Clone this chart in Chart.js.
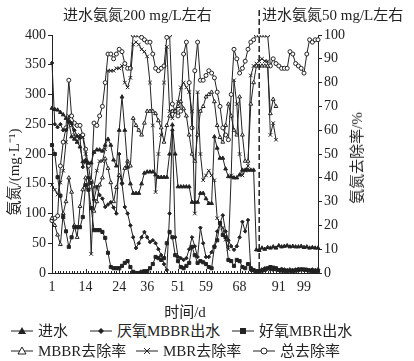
<!DOCTYPE html>
<html>
<head>
<meta charset="utf-8">
<script src="https://cdn.jsdelivr.net/npm/chart.js@4"></script>
<style>
  body { margin: 0; background: #fff; }
  #wrap { position: relative; width: 414px; height: 361px; font-family: "Liberation Serif", "Noto Sans CJK SC", serif; color: #222; }
  #wrap canvas { position: absolute; left: 0; top: 0; }
  .t { position: absolute; white-space: nowrap; font-size: 15px; line-height: 18px; }
  .rot { transform: translate(-50%, -50%) rotate(-90deg); }
  .lg { position: absolute; white-space: nowrap; font-size: 15px; line-height: 18px; display: flex; align-items: center; }
  .lg svg { margin-right: 5px; }
</style>
</head>
<body>
<div id="wrap">
  <canvas id="chart" width="414" height="322"></canvas>
  <div class="t" style="left:63px;top:6px">进水氨氮200 mg/L左右</div>
  <div class="t" style="left:262px;top:6px">进水氨氮50 mg/L左右</div>
  <div class="t rot" style="left:14px;top:172px">氨氮/(mg·L⁻¹)</div>
  <div class="t rot" style="left:357px;top:158px">氨氮去除率/%</div>

  <div class="lg" style="left:11px;top:322px"><svg width="22" height="10"><line x1="0" y1="5" x2="22" y2="5" stroke="#222"/><polygon points="11,1 15,8 7,8" fill="#222"/></svg>进水</div>
  <div class="lg" style="left:90px;top:322px"><svg width="22" height="10"><line x1="0" y1="5" x2="22" y2="5" stroke="#222"/><polygon points="11,2 14,5 11,8 8,5" fill="#222"/></svg>厌氧MBBR出水</div>
  <div class="lg" style="left:232px;top:322px"><svg width="22" height="10"><line x1="0" y1="5" x2="22" y2="5" stroke="#222"/><rect x="8" y="2" width="6" height="6" fill="#222"/></svg>好氧MBR出水</div>
  <div class="lg" style="left:11px;top:342px"><svg width="22" height="10"><line x1="0" y1="5" x2="22" y2="5" stroke="#222"/><polygon points="11,1 15,8 7,8" fill="#fff" stroke="#222"/></svg>MBBR去除率</div>
  <div class="lg" style="left:136px;top:342px"><svg width="22" height="10"><line x1="0" y1="5" x2="22" y2="5" stroke="#222"/><path d="M8 2 L14 8 M14 2 L8 8" stroke="#222"/></svg>MBR去除率</div>
  <div class="lg" style="left:253px;top:342px"><svg width="22" height="10"><line x1="0" y1="5" x2="22" y2="5" stroke="#222"/><circle cx="11" cy="5" r="3" fill="#fff" stroke="#222"/></svg>总去除率</div>
</div>
<script>
// day labels shown under some sampling points
var tickPos = [0, 12, 24, 34, 45, 55, 67, 81, 90];
var tickDays = ['1', '14', '24', '36', '51', '59', '68', '91', '99'];
var nPoints = 96;
var switchIndex = 74; // influent changes from ~200 to ~50 mg/L

// mg/L
var influent = [277,275,274,270,266,260,254,229,225,220,
  212,187,187,185,185,203,207,207,205,215,
  225,215,190,180,240,296,240,178,150,134,
  134,134,150,168,170,170,170,165,161,161,
  161,161,200,249,200,145,145,145,145,145,
  119,119,119,134,134,125,117,117,229,210,
  193,193,175,162,162,160,160,165,173,173,
  173,173,173,39,38,42,40,43,42,44,
  42,46,44,45,46,44,45,44,44,45,
  43,44,42,43,42,42];
var anaerobicOut = [353,250,245,250,240,240,255,252,240,230,
  227,178,190,160,151,123,145,131,125,111,
  115,119,110,100,200,150,111,100,80,60,
  42,50,60,69,60,52,55,50,40,30,
  15,5,100,240,60,27,25,22,25,40,
  60,45,27,76,50,27,27,35,45,70,
  84,97,70,55,45,39,45,60,86,70,
  89,5,4,3,5,6,8,7,6,5,
  6,5,7,6,5,6,5,6,7,6,
  5,6,5,6,5,6];
var aerobicOut = [215,200,161,130,94,70,44,60,77,77,
  77,94,148,140,109,72,72,72,69,59,
  34,10,8,8,8,12,17,20,10,2,
  0,0,2,3,3,8,15,27,25,22,
  25,50,69,60,30,20,10,8,12,17,
  44,30,17,20,18,15,10,8,44,55,
  84,64,60,22,20,12,22,20,10,8,
  15,8,5,3,3,4,5,8,10,9,
  8,5,4,4,3,4,3,4,5,6,
  6,5,4,3,3,3];

// %
var mbbrRemoval = [23,20,16,12,25,30,40,34,20,15,
  28,35,40,36,39,26,30,37,40,48,
  44,38,30,36,41,38,44,47,45,65,
  62,60,58,63,68,68,68,67,64,61,
  55,62,66,68,68,70,72,69,66,58,
  50,47,58,68,70,74,75,76,72,62,
  57,55,62,71,66,60,58,74,58,47,
  47,71,80,87,87,87,87,87,67,73,70];
var mbrRemoval = [37,35,33,38,43,55,66,62,58,55,
  58,57,50,40,8,36,43,47,47,52,
  85,85,85,86,86,87,80,78,82,96,
  97,96,94,93,91,80,62,34,50,58,
  80,95,68,65,68,72,78,80,78,76,
  68,25,76,50,39,41,43,41,39,23,
  21,19,14,10,41,81,71,50,41,43,
  45,83,87,88,89,90,89,89,58,63,56];
var totalRemoval = [22,23,24,45,55,61,81,66,63,62,
  62,58,52,45,38,63,62,66,70,80,
  92,92,90,92,94,93,88,86,86,100,
  100,100,99,98,97,97,92,86,85,86,
  87,99,100,71,68,66,68,92,97,80,
  61,85,97,81,81,83,85,84,82,76,
  70,61,58,56,75,94,90,84,86,89,
  94,97,98,100,100,100,100,100,87,90,
  88,87,86,86,86,93,92,88,87,86,
  84,92,98,97,98,98];

var labels = [];
for (var i = 0; i < nPoints; i++) labels.push('');
tickPos.forEach(function (p, k) { labels[p] = tickDays[k]; });

var ink = '#222';
Chart.defaults.font.family = '"Liberation Serif", serif';
Chart.defaults.font.size = 14;
Chart.defaults.color = ink;

function series(label, data, axis, style, fill, r) {
  return {
    label: label,
    data: data,
    yAxisID: axis,
    borderColor: ink,
    borderWidth: 1,
    pointStyle: style,
    pointRadius: r,
    pointBorderWidth: 1,
    pointBorderColor: ink,
    pointBackgroundColor: fill,
    tension: 0
  };
}

// inward ticks on the time axis and the dashed dividing line
var marks = {
  id: 'marks',
  afterDatasetsDraw: function (chart) {
    var ctx = chart.ctx, area = chart.chartArea, x = chart.scales.x;
    ctx.save();
    ctx.strokeStyle = ink;
    ctx.lineWidth = 1;
    for (var i = 0; i < labels.length; i++) {
      var px = Math.round(x.getPixelForValue(i)) + 0.5;
      var len = labels[i] ? 4 : 2;
      ctx.beginPath();
      ctx.moveTo(px, area.bottom);
      ctx.lineTo(px, area.bottom - len);
      ctx.stroke();
    }
    var sx = x.getPixelForValue(switchIndex);
    ctx.setLineDash([6, 3]);
    ctx.lineWidth = 1.5;
    ctx.beginPath();
    ctx.moveTo(sx, 10);
    ctx.lineTo(sx, area.bottom);
    ctx.stroke();
    ctx.restore();
  }
};

var ctx = document.getElementById('chart').getContext('2d');
var chart = new Chart(ctx, {
  type: 'line',
  data: {
    labels: labels,
    datasets: [
      series('进水', influent, 'y', 'triangle', ink, 2.2),
      series('厌氧MBBR出水', anaerobicOut, 'y', 'rectRot', ink, 1.8),
      series('好氧MBR出水', aerobicOut, 'y', 'rect', ink, 2.2),
      series('MBBR去除率', mbbrRemoval, 'y1', 'triangle', '#fff', 2.2),
      series('MBR去除率', mbrRemoval, 'y1', 'crossRot', '#fff', 2.5),
      series('总去除率', totalRemoval, 'y1', 'circle', '#fff', 2)
    ]
  },
  options: {
    responsive: false,
    animation: false,
    layout: { padding: { top: 35, right: 46, left: 0, bottom: 0 } },
    plugins: { legend: { display: false }, tooltip: { enabled: false } },
    scales: {
      x: {
        type: 'category',
        offset: false,
        grid: { display: false, drawTicks: false },
        border: { color: ink, width: 1 },
        ticks: { autoSkip: false, maxRotation: 0, padding: 6, font: { size: 14 } },
        title: { display: true, text: '时间/d', font: { size: 15, family: '"Liberation Serif", "Noto Sans CJK SC", serif' }, padding: 0 },
        afterFit: function (s) { s.height = 49; }
      },
      y: {
        position: 'left',
        min: 0, max: 400,
        ticks: { stepSize: 50, padding: 2 },
        grid: { drawOnChartArea: false, tickLength: 4, color: ink },
        border: { color: ink, width: 1 },
        afterFit: function (s) { s.width = 52; }
      },
      y1: {
        position: 'right',
        min: 0, max: 100,
        ticks: { stepSize: 10, padding: 2 },
        grid: { drawOnChartArea: false, tickLength: 4, color: ink },
        border: { color: ink, width: 1 },
        afterFit: function (s) { s.width = 50; }
      }
    }
  },
  plugins: [marks]
});
</script>
</body>
</html>
